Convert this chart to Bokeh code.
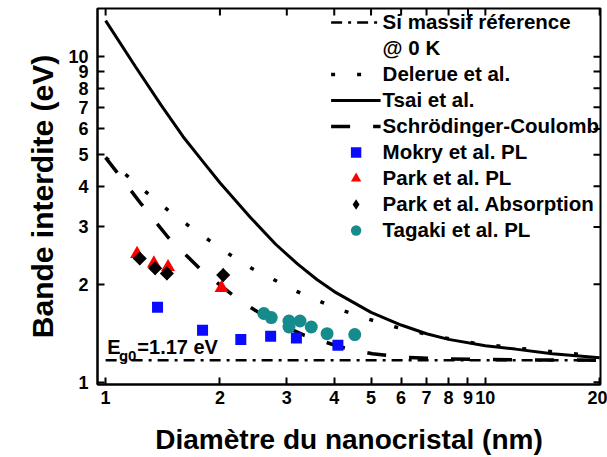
import math
from bokeh.plotting import figure
from bokeh.models import (Range1d, FixedTicker, PrintfTickFormatter,
                          Legend, LegendItem, Label)
from bokeh.core.properties import value
from bokeh.embed import file_html
from bokeh.resources import INLINE

# ---------------- data ----------------
x_ticks = [1, 2, 3, 4, 5, 6, 7, 8, 9, 10, 20]
y_ticks = [1, 2, 3, 4, 5, 6, 7, 8, 9, 10]

si_d = [1.0, 20.0]
si_e = [1.17, 1.17]

delerue_d = [1.0, 1.144, 1.295, 1.468, 1.664, 1.882, 2.133, 2.422, 2.746, 3.10,
             3.51, 3.99, 4.52, 5.11, 5.80, 7.39, 9.54, 12.24, 15.69, 17.78, 20.0]
delerue_e = [4.90, 4.29, 3.79, 3.36, 3.01, 2.72, 2.46, 2.24, 2.08, 1.93,
             1.81, 1.70, 1.615, 1.543, 1.479, 1.385, 1.315, 1.272, 1.236, 1.219, 1.205]

tsai_d = [1.0, 1.2, 1.4, 1.6, 1.8, 2.0, 2.4, 2.8, 3.2, 3.6, 4.0, 5.0, 6.0, 7.0,
          8.0, 10.0, 12.0, 15.0, 20.0]
tsai_e = [12.9, 9.3, 7.1, 5.68, 4.78, 4.10, 3.22, 2.66, 2.31, 2.07, 1.90, 1.64,
          1.50, 1.41, 1.355, 1.295, 1.265, 1.225, 1.19]

sc_d = [1.0, 1.084, 1.229, 1.46, 1.787, 2.232, 2.7, 3.34, 4.154, 5.04, 6.16,
        8.0, 10.0, 14.0, 20.0]
sc_e = [4.90, 4.34, 3.58, 2.79, 2.21, 1.80, 1.56, 1.394, 1.284, 1.224, 1.193,
        1.18, 1.175, 1.172, 1.17]

mokry_d = [1.37, 1.80, 2.27, 2.72, 3.18, 4.09]
mokry_e = [1.70, 1.445, 1.353, 1.385, 1.368, 1.30]

parkpl_d = [1.21, 1.34, 1.46, 2.02]
parkpl_e = [2.48, 2.32, 2.26, 1.95]

parkabs_d = [1.23, 1.35, 1.45, 2.04]
parkabs_e = [2.40, 2.24, 2.16, 2.135]

tagaki_d = [2.61, 2.73, 3.04, 3.04, 3.25, 3.48, 3.83, 4.53]
tagaki_e = [1.627, 1.581, 1.543, 1.479, 1.543, 1.479, 1.411, 1.402]

labels = ["Si massif réference", "@ 0 K", "Delerue et al.", "Tsai et al.",
          "Schrödinger-Coulomb", "Mokry et al. PL", "Park et al. PL",
          "Park et al. Absorption", "Tagaki et al. PL"]

FONT = "Liberation Sans"
X_MIN, X_MAX = 0.952, 20.1
Y_MIN, Y_MAX = 0.985, 14.06

# ---------------- figure ----------------
p = figure(width=607, height=457, x_axis_type="log", y_axis_type="log",
           x_range=Range1d(X_MIN, X_MAX), y_range=Range1d(Y_MIN, Y_MAX),
           output_backend="svg", toolbar_location=None,
           min_border_left=97, min_border_right=7, min_border_top=8,
           min_border_bottom=0, background_fill_color="white",
           border_fill_color="white")
p.xgrid.grid_line_color = None
p.ygrid.grid_line_color = None
p.outline_line_color = "black"
p.outline_line_width = 2

def style_axis(ax, ticks):
    ax.ticker = FixedTicker(ticks=ticks, minor_ticks=[])
    ax.formatter = PrintfTickFormatter(format="%d")
    ax.axis_line_width = 2
    ax.axis_line_color = "black"
    ax.major_tick_line_width = 2
    ax.major_tick_in = 7
    ax.major_tick_out = 0
    ax.minor_tick_line_color = None
    ax.major_label_text_font = FONT
    ax.major_label_text_font_style = "bold"
    ax.major_label_text_color = "black"
    ax.major_label_text_font_size = "18px"
    ax.axis_label_text_font = FONT
    ax.axis_label_text_font_style = "bold"
    ax.axis_label_text_color = "black"

style_axis(p.xaxis[0], x_ticks)
style_axis(p.yaxis[0], y_ticks)
p.xaxis[0].major_label_standoff = 6
p.yaxis[0].major_label_standoff = 9

p.xaxis[0].axis_label = "Diamètre du nanocristal (nm)"
p.xaxis[0].axis_label_text_font_size = "28px"
p.xaxis[0].axis_label_standoff = 17

p.yaxis[0].axis_label = "Bande interdite (eV)"
p.yaxis[0].axis_label_text_font_size = "30px"
p.yaxis[0].axis_label_standoff = 6

# mirror ticks on the top and right frame edges (clipped to the frame)
p.scatter(x_ticks, [Y_MAX] * len(x_ticks), marker="dash", angle=math.pi / 2,
          size=14, line_color="black", line_width=2)
p.scatter([X_MAX] * len(y_ticks), y_ticks, marker="dash", size=14,
          line_color="black", line_width=2)

# ---------------- curves ----------------
r_si = p.line(si_d, si_e, line_color="black", line_width=2.5, line_dash="11 6 3 6")
r_blank = p.line(si_d, si_e, line_color="black", line_alpha=0)
r_del = p.line(delerue_d, delerue_e, line_color="black", line_width=3.5,
               line_dash="4 22")
r_tsai = p.line(tsai_d, tsai_e, line_color="black", line_width=3)
r_sc = p.line(sc_d, sc_e, line_color="black", line_width=3.5, line_dash="19 23")

# ---------------- markers ----------------
r_mok = p.scatter(mokry_d, mokry_e, marker="square", size=11,
                  fill_color="#0a0aff", line_color=None)
r_ppl = p.scatter(parkpl_d, parkpl_e, marker="triangle", size=14,
                  fill_color="#ff0000", line_color=None)
# diamond glyph (used for the legend entry), covered by the rotated squares
r_pab_leg = p.scatter(parkabs_d, parkabs_e, marker="diamond", size=14,
                      fill_color="black", line_color=None)
r_pab = p.scatter(parkabs_d, parkabs_e, marker="square", size=10,
                  angle=math.pi / 4, fill_color="black", line_color=None)
r_tag = p.scatter(tagaki_d, tagaki_e, marker="circle", size=13,
                  fill_color="#168b8b", line_color=None)

# ---------------- legend ----------------
rends = [r_si, r_blank, r_del, r_tsai, r_sc, r_mok, r_ppl, r_pab_leg, r_tag]
items = [LegendItem(label=value(lab), renderers=[r]) for lab, r in zip(labels, rends)]
legend = Legend(items=items, location="top_right", glyph_width=50,
                glyph_height=26, label_height=26, spacing=0, padding=1,
                margin=0, label_standoff=2, background_fill_alpha=0,
                border_line_alpha=0, label_text_font=FONT,
                label_text_font_style="bold", label_text_font_size="20.5px",
                label_text_color="black")
p.add_layout(legend)

# ---------------- annotation ----------------
p.add_layout(Label(x=1.01, y=1.281, text="E", text_font=FONT,
                   text_font_style="bold", text_font_size="20px",
                   text_baseline="alphabetic", text_color="black"))
p.add_layout(Label(x=1.084, y=1.21, text="g0", text_font=FONT,
                   text_font_style="bold", text_font_size="15px",
                   text_baseline="alphabetic", text_color="black"))
p.add_layout(Label(x=1.212, y=1.281, text="=1.17 eV", text_font=FONT,
                   text_font_style="bold", text_font_size="20px",
                   text_baseline="alphabetic", text_color="black"))

open("out.html", "w").write(file_html(p, INLINE))
